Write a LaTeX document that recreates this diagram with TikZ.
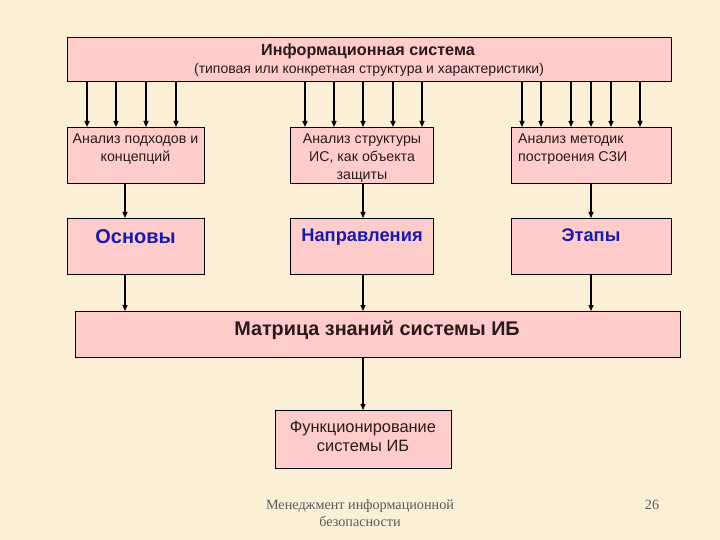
\documentclass[tikz,border=0pt]{standalone}
\usepackage{fontspec}
\setmainfont{Liberation Sans}
\newfontfamily\footfont{Liberation Serif}
\usetikzlibrary{arrows.meta}
\definecolor{bgc}{HTML}{FBEFD6}
\definecolor{boxc}{HTML}{FFCCCC}
\definecolor{bluec}{HTML}{1A1AA8}
\definecolor{darkc}{HTML}{2A1A1A}
\definecolor{footc}{HTML}{5A5A5A}
\tikzset{
  box/.style={draw=black, line width=0.9pt, fill=boxc, anchor=north west, inner sep=0pt},
  arr/.style={line width=1.2pt, -{Triangle[length=6pt,width=5pt]}},
  txt/.style={anchor=north, inner sep=0pt, align=center, text=darkc},
}
\begin{document}
\begin{tikzpicture}[x=1pt,y=-1pt]
\useasboundingbox (0,0) rectangle (720,540);
\fill[bgc] (0,0) rectangle (720,540);
% boxes
\node[box, minimum width=604pt, minimum height=44pt] (top) at (67,37) {};
\node[box, minimum width=137pt, minimum height=56pt] (r1a) at (67,127) {};
\node[box, minimum width=143pt, minimum height=56pt] (r1b) at (290,127) {};
\node[box, minimum width=160pt, minimum height=56pt] (r1c) at (511,127) {};
\node[box, minimum width=137pt, minimum height=56pt] (r2a) at (67,218) {};
\node[box, minimum width=143pt, minimum height=56pt] (r2b) at (290,218) {};
\node[box, minimum width=160pt, minimum height=56pt] (r2c) at (511,218) {};
\node[box, minimum width=605pt, minimum height=46pt] (mat) at (75,311) {};
\node[box, minimum width=176pt, minimum height=58pt] (fun) at (275,410) {};
% texts
\node[txt, font=\bfseries\fontsize{16.2}{18}\selectfont] (t1) at (368,43.5) {Информационная система};
\node[txt, font=\fontsize{14}{16}\selectfont] (t2) at (369,63) {(типовая или конкретная структура и характеристики)};
\node[txt, font=\fontsize{14.2}{17.8}\selectfont] (ta) at (135.5,134) {Анализ подходов и\\концепций};
\node[txt, font=\fontsize{14.2}{17.8}\selectfont] (tb) at (362,134) {Анализ структуры\\ИС, как объекта\\защиты};
\node[txt, font=\fontsize{14.2}{17.8}\selectfont, align=left, anchor=north west] (tc) at (518,134) {Анализ методик\\построения СЗИ};
\node[txt, text=bluec, font=\bfseries\fontsize{20}{22}\selectfont] (sa) at (135.5,229.5) {Основы};
\node[txt, text=bluec, font=\bfseries\fontsize{18.3}{21}\selectfont] (sb) at (362,229) {Направления};
\node[txt, text=bluec, font=\bfseries\fontsize{18.3}{21}\selectfont] (sc) at (591,229) {Этапы};
\node[txt, font=\bfseries\fontsize{19.8}{22}\selectfont] (tm) at (377,321) {Матрица знаний системы ИБ};
\node[txt, font=\fontsize{16.4}{19}\selectfont] (tf) at (363,421) {Функционирование\\системы ИБ};
\node[txt, text=footc, font=\footfont\fontsize{14.2}{17}\selectfont] (f1) at (360,499.5) {Менеджмент информационной\\безопасности};
\node[txt, text=footc, font=\footfont\fontsize{14.2}{17}\selectfont] (f2) at (652,499.5) {26};
% arrows from top
\foreach \x in {87,116,146,176} \draw[arr] (\x,0 |- top.south) -- (\x,0 |- r1a.north);
\foreach \x in {305,334,363,393,422} \draw[arr] (\x,0 |- top.south) -- (\x,0 |- r1b.north);
\foreach \x in {522,541,571,591,611,640} \draw[arr] (\x,0 |- top.south) -- (\x,0 |- r1c.north);
% row arrows
\draw[arr] (125,0 |- r1a.south) -- (125,0 |- r2a.north);
\draw[arr] (363,0 |- r1b.south) -- (363,0 |- r2b.north);
\draw[arr] (591,0 |- r1c.south) -- (591,0 |- r2c.north);
\draw[arr] (125,0 |- r2a.south) -- (125,0 |- mat.north);
\draw[arr] (363,0 |- r2b.south) -- (363,0 |- mat.north);
\draw[arr] (591,0 |- r2c.south) -- (591,0 |- mat.north);
\draw[arr] (363,0 |- mat.south) -- (363,0 |- fun.north);
\end{tikzpicture}
\end{document}
